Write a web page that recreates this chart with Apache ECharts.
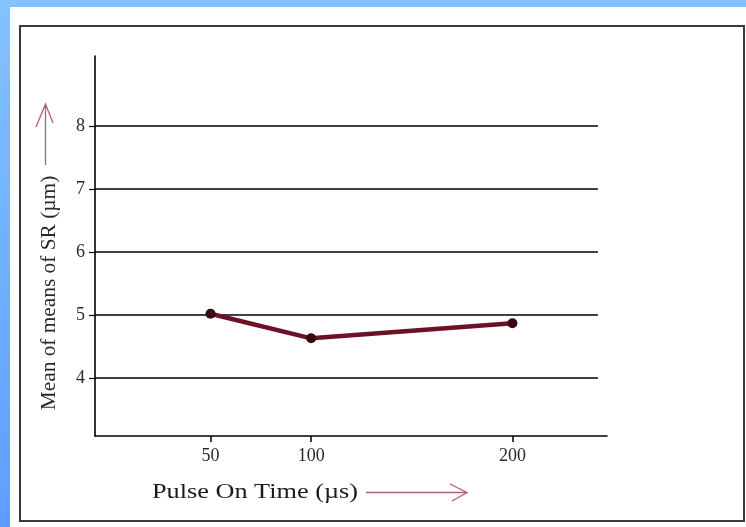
<!DOCTYPE html>
<html>
<head>
<meta charset="utf-8">
<script src="https://cdn.jsdelivr.net/npm/echarts@6/dist/echarts.min.js"></script>
<style>
  html, body { margin: 0; padding: 0; width: 746px; height: 527px; overflow: hidden;
    background: linear-gradient(to bottom, #84c2ff, #5e9dff); }
  #panel { position: absolute; left: 10px; top: 7px; width: 736px; height: 520px; background: #fff; }
  #frame { position: absolute; left: 19px; top: 25px; width: 726px; height: 497px;
    box-sizing: border-box; border: 2px solid #3a3a3a; }
  #chart { position: absolute; left: 0; top: 0; width: 746px; height: 527px; }
</style>
</head>
<body>
<div id="panel"></div>
<div id="frame"></div>
<div id="chart"></div>
<script>
// ---- data ----
const pulseOnTime = [50, 100, 200];          // µs
const meanOfMeansSR = [5.02, 4.63, 4.87];    // µm
const xTickValues = [50, 100, 200];
const yTickValues = [4, 5, 6, 7, 8];
const xTitle = 'Pulse On Time (µs)';
const yTitle = 'Mean of means of SR (µm)';

// ---- layout constants ----
const X_MIN = -7.4, X_MAX = 247;
const Y_MIN = 3.08, Y_MAX = 9.11;
const GRIDLINE_END = 242.5;
const FONT = "'Liberation Serif', 'Times New Roman', serif";
const ARROW = '#b0606e';

const chart = echarts.init(document.getElementById('chart'), null, { renderer: 'canvas' });

const points = pulseOnTime.map((x, i) => [x, meanOfMeansSR[i]]);
const gridLines = yTickValues.map(v => [
  { coord: [X_MIN, v] },
  { coord: [GRIDLINE_END, v] }
]);

chart.setOption({
  animation: false,
  backgroundColor: 'transparent',
  grid: { left: 95, right: 139, top: 56, bottom: 91, containLabel: false },
  xAxis: {
    type: 'value', min: X_MIN, max: X_MAX,
    axisLine: { show: true, onZero: false, lineStyle: { color: '#000', width: 1.6 } },
    axisTick: { show: true, customValues: xTickValues, length: 6, lineStyle: { color: '#000', width: 1.5 } },
    axisLabel: { customValues: xTickValues, margin: 11, color: '#2a2a2a', fontFamily: FONT, fontSize: 18 },
    splitLine: { show: false }
  },
  yAxis: {
    type: 'value', min: Y_MIN, max: Y_MAX,
    axisLine: { show: true, onZero: false, lineStyle: { color: '#000', width: 1.6 } },
    axisTick: { show: true, customValues: yTickValues, length: 6, lineStyle: { color: '#000', width: 1.2 } },
    axisLabel: { customValues: yTickValues, margin: 10, color: '#2a2a2a', fontFamily: FONT, fontSize: 18 },
    splitLine: { show: false }
  },
  series: [{
    type: 'line',
    data: points,
    symbol: 'circle',
    symbolSize: 10,
    lineStyle: { color: '#6a1226', width: 4.5 },
    itemStyle: { color: '#3a0813' },
    z: 5,
    markLine: {
      silent: true,
      symbol: ['none', 'none'],
      label: { show: false },
      lineStyle: { color: '#000', width: 1.6, type: 'solid' },
      data: gridLines,
      z: 1
    }
  }],
  graphic: [
    {
      type: 'text', x: 49, y: 293, rotation: Math.PI / 2, scaleX: 0.97,
      style: { text: yTitle, font: '22px ' + FONT, fill: '#2a2a2a', textAlign: 'center', textVerticalAlign: 'middle' }
    },
    {
      type: 'text', x: 255, y: 492, scaleX: 1.25,
      style: { text: xTitle, font: '21px ' + FONT, fill: '#1a1a1a', textAlign: 'center', textVerticalAlign: 'middle' }
    },
    { type: 'polyline', shape: { points: [[45.5, 165], [45.5, 105]] }, style: { stroke: ARROW, lineWidth: 1.3, fill: null } },
    { type: 'polyline', shape: { points: [[36, 127], [45.5, 104], [53, 123]] }, style: { stroke: ARROW, lineWidth: 1.3, fill: null } },
    { type: 'polyline', shape: { points: [[366, 492.5], [467, 492.5]] }, style: { stroke: ARROW, lineWidth: 1.3, fill: null } },
    { type: 'polyline', shape: { points: [[450, 484], [467, 492.5], [452, 501]] }, style: { stroke: ARROW, lineWidth: 1.3, fill: null } }
  ]
});
</script>
</body>
</html>
